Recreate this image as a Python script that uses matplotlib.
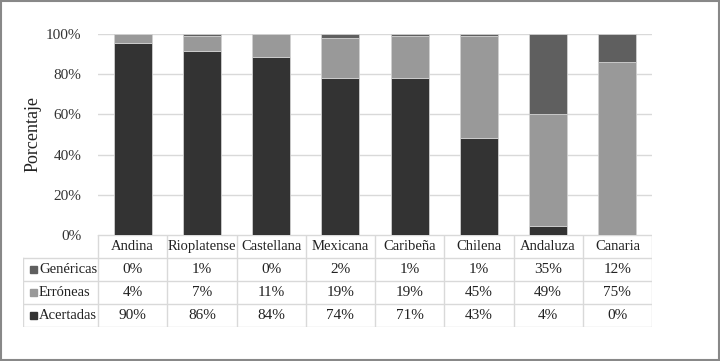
import matplotlib
matplotlib.use("Agg")
import matplotlib.pyplot as plt
from matplotlib.patches import Rectangle
import numpy as np

categories = ["Andina", "Rioplatense", "Castellana", "Mexicana",
              "Caribeña", "Chilena", "Andaluza", "Canaria"]
acertadas = [90, 86, 84, 74, 71, 43, 4, 0]
erroneas = [4, 7, 11, 19, 19, 45, 49, 75]
genericas = [0, 1, 0, 2, 1, 1, 35, 12]

series_names = ["Genéricas", "Erróneas", "Acertadas"]
colors = {"Acertadas": "#333333", "Erróneas": "#999999", "Genéricas": "#5f5f5f"}

plt.rcParams["font.family"] = ["Liberation Serif", "DejaVu Serif"]
plt.rcParams["font.size"] = 10.5

fig = plt.figure(figsize=(7.2, 3.61), dpi=100)
W, H = 720, 361


def px_rect(x0, y0, x1, y1):
    return [x0 / W, 1 - y1 / H, (x1 - x0) / W, (y1 - y0) / H]


# stacked 100% bars
a = np.array(acertadas, float)
e = np.array(erroneas, float)
g = np.array(genericas, float)
tot = a + e + g
pa, pe, pg = a / tot * 100, e / tot * 100, g / tot * 100

ax = fig.add_axes(px_rect(98, 34, 652, 235))
x = np.arange(len(categories))
bw = 0.55
edge = "#d0d0d0"
ax.bar(x, pa, bw, color=colors["Acertadas"], edgecolor=edge, lw=0.6, zorder=3)
ax.bar(x, pe, bw, bottom=pa, color=colors["Erróneas"], edgecolor=edge, lw=0.6, zorder=3)
ax.bar(x, pg, bw, bottom=pa + pe, color=colors["Genéricas"], edgecolor=edge, lw=0.6, zorder=3)
ax.set_xlim(-0.5, len(categories) - 0.5)
ax.set_ylim(0, 100)
ax.set_yticks(np.arange(0, 101, 20))
ax.set_yticklabels([f"{v}%" for v in range(0, 101, 20)], color="#333333", fontsize=11)
ax.yaxis.grid(True, color="#d9d9d9", lw=1, zorder=0)
ax.set_xticks([])
ax.tick_params(axis="y", length=0, pad=12)
for s in ax.spines.values():
    s.set_visible(False)
ax.set_ylabel("Porcentaje", fontsize=13, color="#222222", labelpad=3)

# data table
tab = fig.add_axes(px_rect(23, 235, 652, 327))
col_w = (652 - 98) / len(categories)
left = 75 / col_w
tab.set_xlim(-0.5 - left, len(categories) - 0.5)
tab.set_ylim(4, 0)
tab.axis("off")
lc = "#d9d9d9"
rows = {"Genéricas": genericas, "Erróneas": erroneas, "Acertadas": acertadas}

# horizontal lines
tab.plot([-0.5, len(categories) - 0.5], [0, 0], color=lc, lw=1)
for r in range(1, 5):
    tab.plot([-0.5 - left, len(categories) - 0.5], [r, r], color=lc, lw=1)
# vertical lines
tab.plot([-0.5 - left] * 2, [1, 4], color=lc, lw=1)
for i in range(len(categories) + 1):
    tab.plot([i - 0.5] * 2, [0, 4], color=lc, lw=1)

for i, c in enumerate(categories):
    tab.text(i, 0.5, c, ha="center", va="center", color="#222222", fontsize=10.5)
for r, name in enumerate(series_names, start=1):
    vals = rows[name]
    for i, v in enumerate(vals):
        tab.text(i, r + 0.5, f"{v}%", ha="center", va="center", color="#222222",
                 fontsize=11)
    sq = 7 / col_w
    tab.add_patch(Rectangle((-0.5 - left + 7 / col_w, r + 0.5 - 0.15), sq, 0.3,
                            color=colors[name]))
    tab.text(-0.5 - left + 16 / col_w, r + 0.5, name, ha="left", va="center",
             color="#222222", fontsize=10.5)

# outer frame
fig.patches.append(Rectangle((0.002, 0.003), 0.996, 0.994, transform=fig.transFigure,
                             fill=False, edgecolor="#888888", lw=1.5))

fig.savefig("out.png", dpi=100)
